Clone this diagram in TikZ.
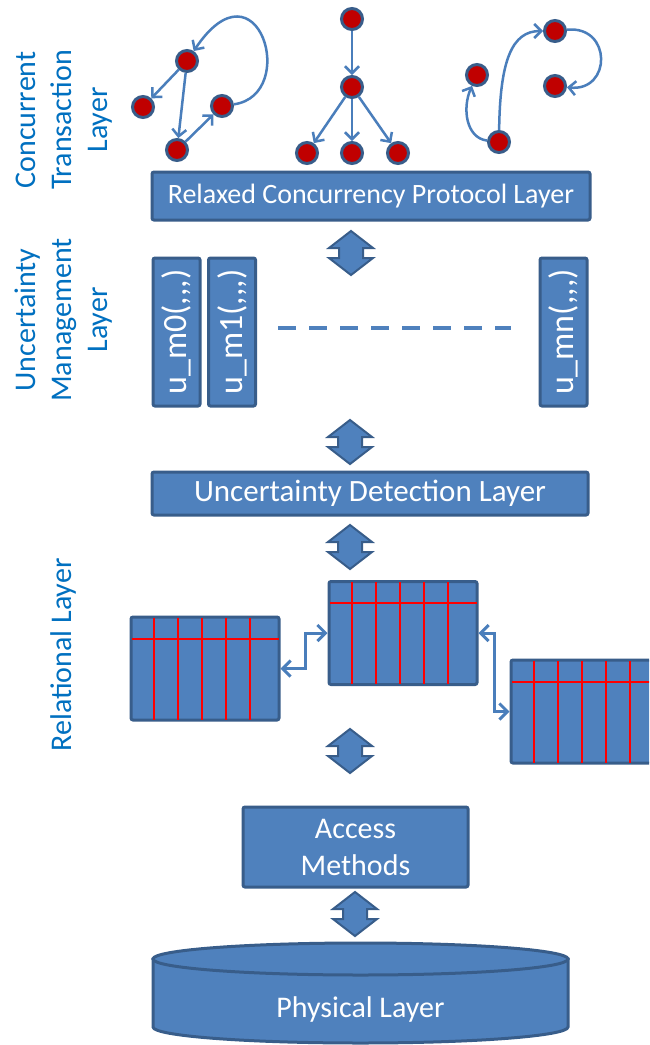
\documentclass[tikz,border=0pt]{standalone}
\usepackage{fontspec}
\setmainfont{Carlito}
\newfontfamily\umfont{Carlito}
\usetikzlibrary{arrows.meta,calc}
\definecolor{boxfill}{HTML}{4F81BD}
\definecolor{boxline}{HTML}{385D8A}
\definecolor{dotred}{HTML}{C00000}
\definecolor{labelblue}{HTML}{0070C0}
\definecolor{linkblue}{HTML}{4A7EBB}
\definecolor{gridred}{HTML}{FF0000}
\tikzset{
  layerbox/.style={draw=boxline, line width=3pt, fill=boxfill, rounded corners=2pt,
    text=white, inner sep=0pt},
  umbox/.style={layerbox, rotate=90, minimum width=148pt, minimum height=47pt,
    font=\umfont\fontsize{34}{36}\selectfont},
  tnode/.style={circle, draw=boxline, line width=3pt, fill=dotred, minimum size=21pt, inner sep=0pt},
  barb/.tip={Straight Barb[length=7pt,width=14pt]},
  bigbarb/.tip={Straight Barb[length=8pt,width=16pt]},
  link/.style={draw=linkblue, line width=2.5pt, -barb},
  dlink/.style={draw=linkblue, line width=3pt, bigbarb-bigbarb},
  sidelabel/.style={rotate=90, text=labelblue, align=center, inner sep=0pt,
    font=\fontsize{30}{36}\selectfont},
  dbtable/.style={layerbox, minimum width=148pt, minimum height=103pt},
  tabline/.style={draw=gridred, line width=2pt},
  dashline/.style={draw=boxfill, line width=4pt, dash pattern=on 18pt off 13pt},
  updown/.pic={
    \draw[draw=boxline, line width=2pt, fill=boxfill, line join=miter]
      (0,-22) -- (22,-5) -- (12,-5) -- (12,5) -- (22,5) -- (0,22)
      -- (-22,5) -- (-12,5) -- (-12,-5) -- (-22,-5) -- cycle;
  },
}
% draws the header line and column lines of a table node
\newcommand{\tablegrid}[1]{%
  \draw[tabline] ([xshift=2pt,yshift=-23pt]#1.north west) -- ([xshift=-2pt,yshift=-23pt]#1.north east);
  \foreach \i in {1,...,5}
    \draw[tabline] ([xshift=\i*24pt,yshift=-2pt]#1.north west) -- ([xshift=\i*24pt,yshift=2pt]#1.south west);
}
\begin{document}
\begin{tikzpicture}[x=1pt,y=-1pt]
\clip (0,0) rectangle (649,1045);
\fill[white] (0,0) rectangle (649,1045);

% side labels
\node[sidelabel] (lbl1) at (64,120) {Concurrent\\Transaction\\Layer};
\node[sidelabel] (lbl2) at (64,320) {Uncertainty\\Management\\Layer};
\node[sidelabel] (lbl3) at (64,655) {Relational Layer};

% concurrent transactions: left graph
\node[tnode] (a1) at (187,61) {};
\node[tnode] (a2) at (143,107) {};
\node[tnode] (a3) at (222,106) {};
\node[tnode] (a4) at (177,150) {};
\draw[link] (a1) -- (a2);
\draw[link] (a1) -- (a4);
\draw[link] (a4) -- (a3);
\draw[link] (a3) .. controls (300,95) and (258,-45) .. (a1);

% middle graph
\node[tnode] (m1) at (352,19) {};
\node[tnode] (m2) at (352,87) {};
\node[tnode] (c1) at (307,153) {};
\node[tnode] (c2) at (352,153) {};
\node[tnode] (c3) at (398,153) {};
\draw[link] (m1) -- (m2);
\draw[link] (m2) -- (c1);
\draw[link] (m2) -- (c2);
\draw[link] (m2) -- (c3);

% right graph
\node[tnode] (b1) at (477,75) {};
\node[tnode] (b2) at (555,31) {};
\node[tnode] (b3) at (555,86) {};
\node[tnode] (b4) at (499,142) {};
\draw[link] (b4) .. controls (466,138) and (462,108) .. (b1);
\draw[link] (b4) .. controls (500,60) and (512,31) .. (b2);
\draw[link] (b2) .. controls (612,25) and (612,92) .. (b3);

% protocol layer
\node[layerbox, minimum width=438pt, minimum height=48pt,
  font=\fontsize{28}{32}\selectfont] (rcp) at (371,196) {Relaxed Concurrency Protocol Layer};
\pic at (351,253) {updown};

% uncertainty management
\node[umbox] (u0) at (176.5,332) {u\_m0(,,,)};
\node[umbox] (u1) at (232,332) {u\_m1(,,,)};
\node[umbox] (un) at (563.5,332) {u\_mn(,,,)};
\draw[dashline] ([yshift=4pt,xshift=21pt]u1.south) -- ([yshift=4pt,xshift=-28pt]un.north);

\pic at (350,442) {updown};

% detection layer
\node[layerbox, minimum width=436pt, minimum height=43pt,
  font=\fontsize{31}{34}\selectfont] (udl) at (370,493.5) {Uncertainty Detection Layer};
\pic at (350,547) {updown};

% relational tables
\node[dbtable] (lt) at (205,668.5) {};
\node[dbtable] (mt) at (403,633) {};
\node[dbtable] (rt) at (585,711.5) {};
\tablegrid{lt}
\tablegrid{mt}
\tablegrid{rt}
\draw[dlink] (lt.east) -- ++(25,0) |- (mt.west);
\draw[dlink] (mt.east) -- ++(16,0) |- (rt.west);

\pic at (350,751) {updown};

% access methods
\node[layerbox, minimum width=225pt, minimum height=80pt, align=center,
  font=\fontsize{30}{37}\selectfont] (acc) at (355.5,847) {Access\\Methods};
\pic at (355,914) {updown};

% physical layer cylinder
\draw[draw=boxline, line width=3pt, fill=boxfill]
  (153,959) -- (153,1027) arc[start angle=180, end angle=360, x radius=207.5pt, y radius=16pt]
  -- (568,959) -- cycle;
\draw[draw=boxline, line width=3pt, fill=boxfill] (360.5,959) ellipse[x radius=207.5pt, y radius=16pt];
\node[text=white, font=\fontsize{30}{36}\selectfont] (phys) at (360.5,1009) {Physical Layer};
\end{tikzpicture}
\end{document}
